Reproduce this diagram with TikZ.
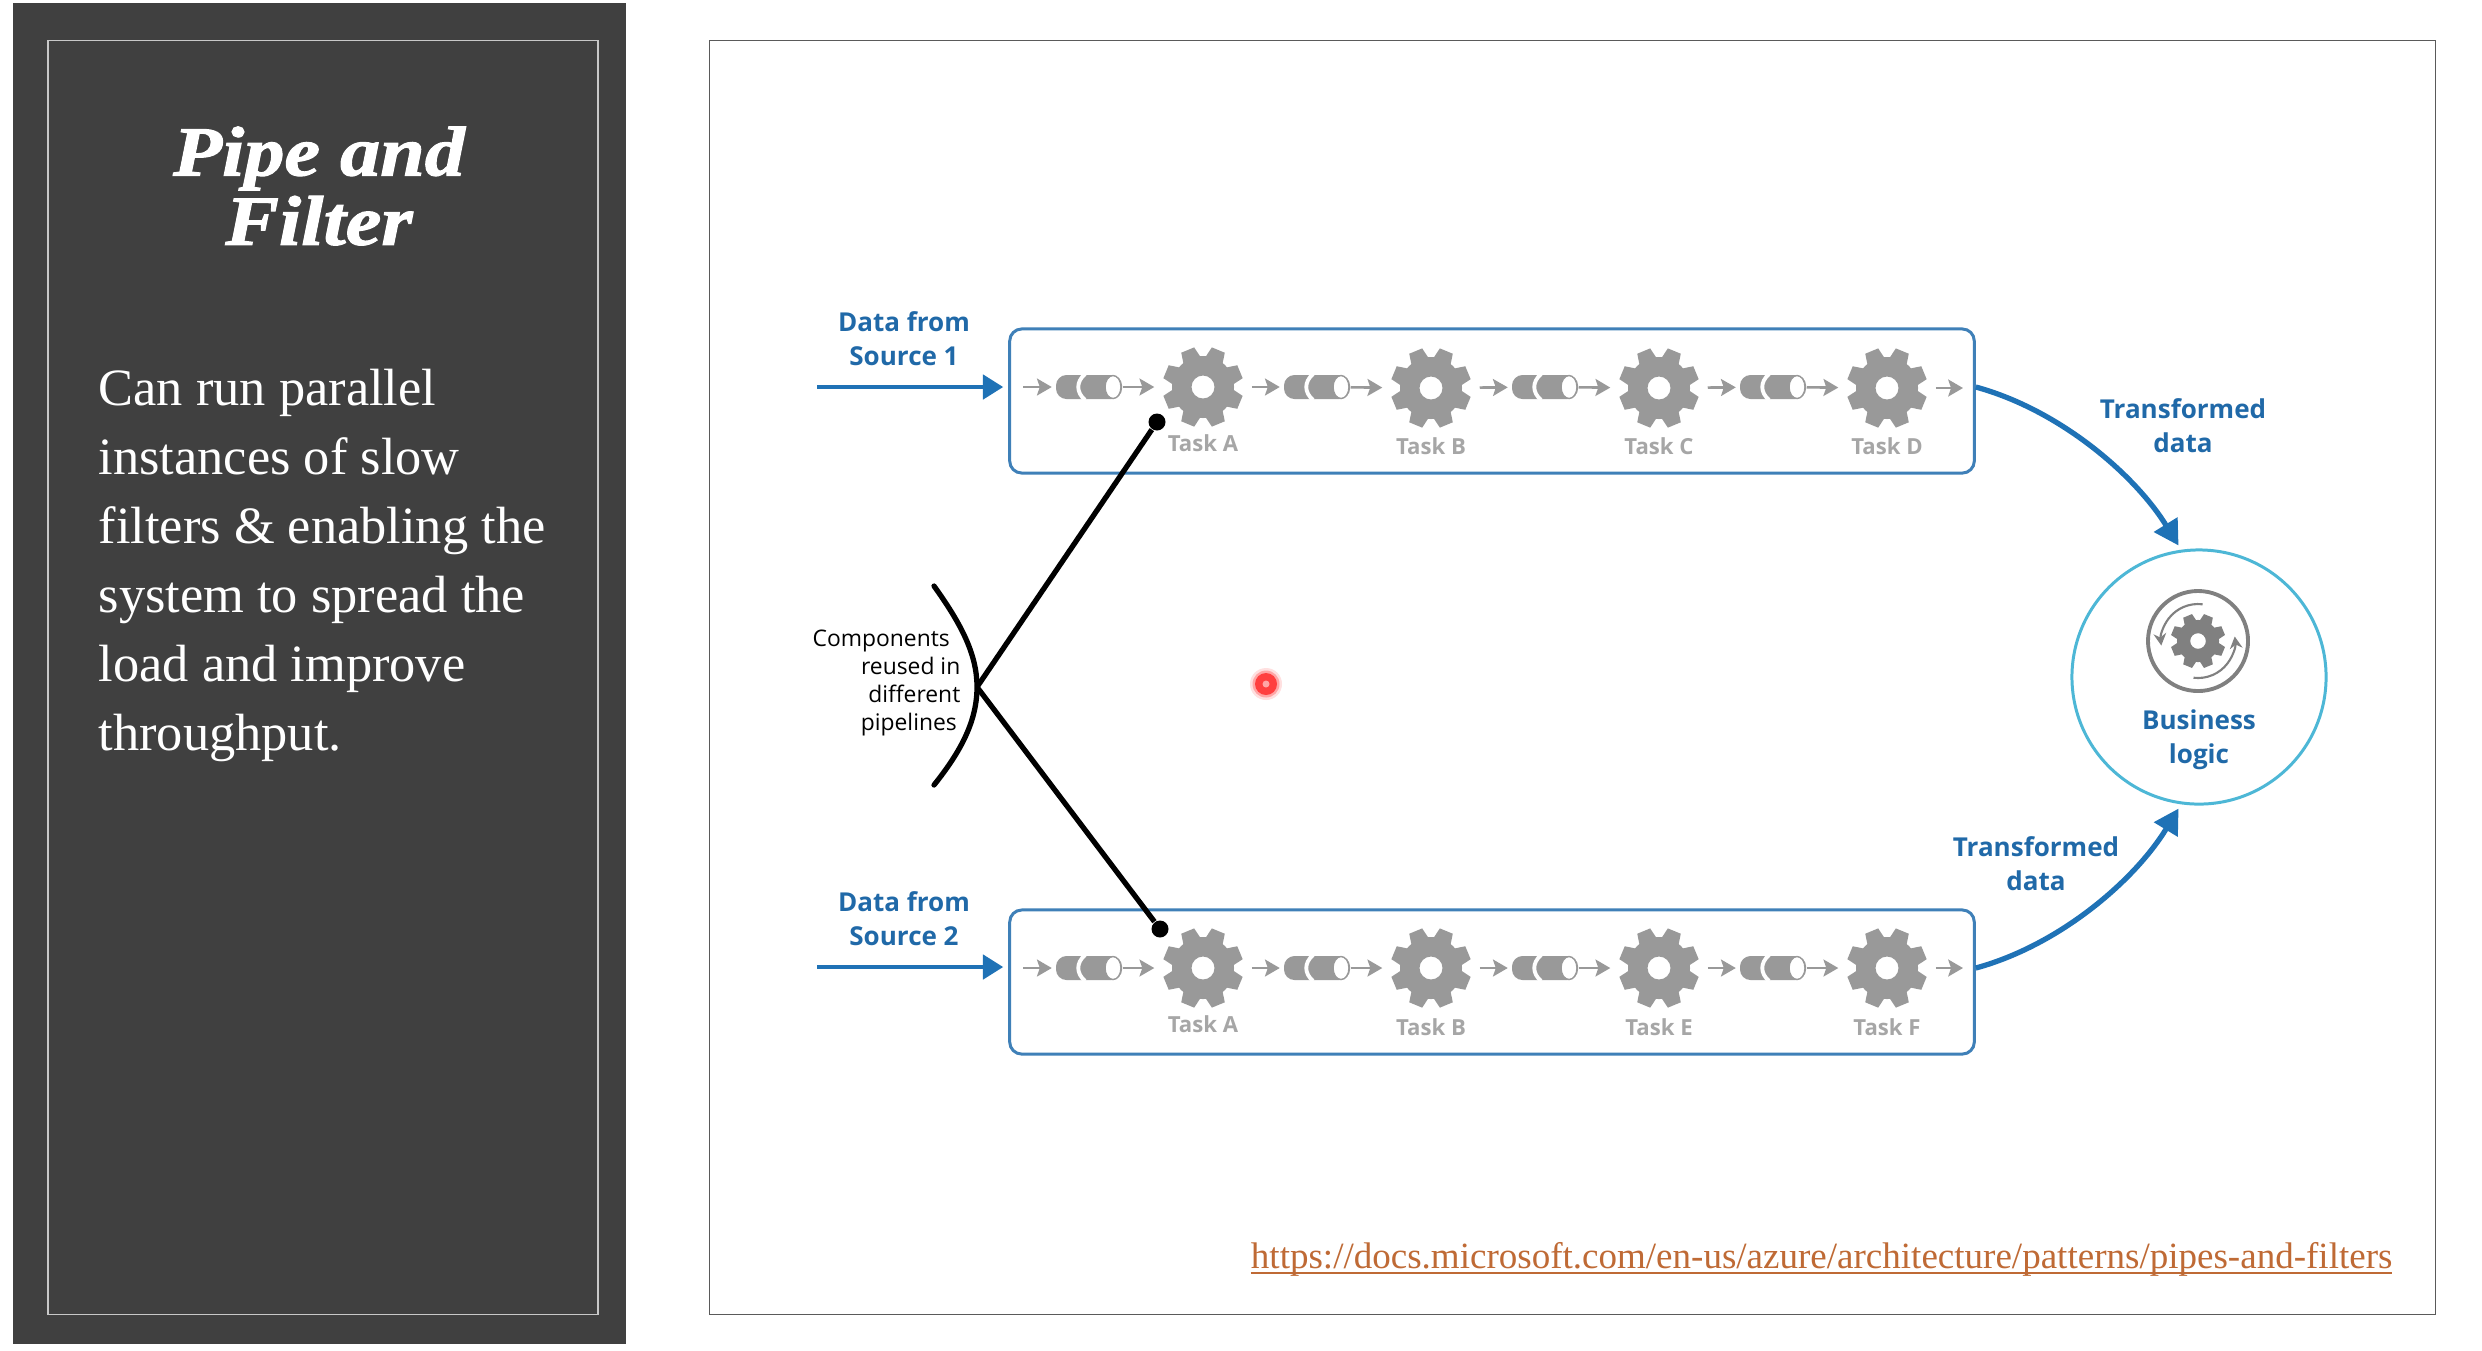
\documentclass[tikz,border=0pt]{standalone}
\usepackage{fontspec}
\setmainfont{Liberation Serif}
\newfontfamily\opens{Open Sans}
\newfontface\titlef[FakeBold=1.6,FakeStretch=1.14]{Liberation Serif Bold Italic}
\lineskiplimit=-100pt
\usetikzlibrary{arrows.meta,calc}
\definecolor{panelbg}{HTML}{404040}
\definecolor{panelln}{HTML}{C8C8C8}
\definecolor{frameln}{HTML}{5A5A5A}
\definecolor{blueln}{HTML}{1F72B6}
\definecolor{boxln}{HTML}{3F80B8}
\definecolor{bluetx}{HTML}{2069A8}
\definecolor{cyanln}{HTML}{4DB7D6}
\definecolor{gearc}{HTML}{999999}
\definecolor{iconc}{HTML}{808080}
\definecolor{labelc}{HTML}{A6A6A6}
\definecolor{urlc}{HTML}{BF6A35}
\tikzset{
  x=0.01cm,y=-0.01cm,
  gearpic/.pic={
    \fill[pic actions,even odd rule] (0,0) circle[radius=31] (0,0) circle[radius=11.5];
    \foreach \a in {22.5,67.5,...,337.5}
      \fill[pic actions,rotate=\a] (27,-9.5) -- (40,-7) -- (40,7) -- (27,9.5) -- cycle;
  },
  pipepic/.pic={
    \fill[gearc,rounded corners=3pt] (-33,-12) rectangle (33,12);
    \draw[white,line width=1.1pt] (-4,-13) .. controls (-13,-5) and (-13,5) .. (-4,13);
    \fill[white,draw=gearc,line width=0.4pt] (24,0) ellipse[x radius=8,y radius=11.5];
  },
  hub/.style={circle,minimum size=0.96cm,inner sep=0pt},
  pipenode/.style={rectangle,minimum width=0.66cm,minimum height=0.24cm,inner sep=0pt},
  flow/.style={draw=gearc,line width=0.75pt,-{Stealth[length=4.2pt,width=4.8pt,inset=0.8pt]}},
  tasklab/.style={font=\opens\bfseries\fontsize{6.3}{7.5}\selectfont,text=labelc,inner sep=0pt},
  bluelab/.style={font=\opens\bfseries\fontsize{7.4}{9.7}\selectfont,text=bluetx,align=center,inner sep=0pt},
  rowbox/.style={draw=boxln,line width=0.85pt,rounded corners=3.4pt,inner sep=0pt,minimum width=9.64cm,minimum height=1.44cm},
  inarrow/.style={draw=blueln,line width=1.4pt,-{Triangle[length=5.8pt,width=6.8pt]},shorten >=1.4pt},
  outarrow/.style={draw=blueln,line width=1.5pt,-{Triangle[length=7pt,width=7.6pt]},shorten >=1.4pt},
  blackln/.style={draw=black,line width=1.5pt},
  blackdot/.style={circle,fill=black,minimum size=0.17cm,inner sep=0pt}
}
\begin{document}
\begin{tikzpicture}
\useasboundingbox (0,0) rectangle (2482,1350);
\fill[white] (0,0) rectangle (2482,1350);
% left panel
\node[fill=panelbg,minimum width=6.13cm,minimum height=13.41cm,inner sep=0pt] (panel) at (319.5,673.5) {};
\node[draw=panelln,line width=0.45pt,minimum width=5.5cm,minimum height=12.73cm,inner sep=0pt] (inner) at (323,677.5) {};
\node[text=white,align=center,inner sep=0pt,font=\titlef\fontsize{20}{19.7}\selectfont] (title) at (319,186) {Pipe and\\Filter};
\node[text=white,align=left,anchor=north west,inner sep=0pt,font=\fontsize{14.9}{19.63}\selectfont] (body) at (98,368) {Can run parallel\\instances of slow\\filters \& enabling the\\system to spread the\\load and improve\\throughput.};
% right frame
\node[draw=frameln,line width=0.45pt,minimum width=17.25cm,minimum height=12.73cm,inner sep=0pt] (frame) at (1572.5,677.5) {};
% row boxes
\node[rowbox] (box1) at (1492,401) {};
\node[rowbox] (box2) at (1492,982) {};
% row 1
\coordinate (in1) at (1023,387);
\node[pipenode] (p1a) at (1089,387) {}; \pic[gearc] at (p1a) {pipepic};
\node[pipenode] (p1b) at (1317,387) {}; \pic[gearc] at (p1b) {pipepic};
\node[pipenode] (p1c) at (1545,387) {}; \pic[gearc] at (p1c) {pipepic};
\node[pipenode] (p1d) at (1773,387) {}; \pic[gearc] at (p1d) {pipepic};
\node[hub] (g1a) at (1203,387) {}; \pic[gearc] at (g1a) {gearpic};
\node[hub] (g1b) at (1431,388) {}; \pic[gearc] at (g1b) {gearpic};
\node[hub] (g1c) at (1659,388) {}; \pic[gearc] at (g1c) {gearpic};
\node[hub] (g1d) at (1887,388) {}; \pic[gearc] at (g1d) {gearpic};
\coordinate (out1) at (1963,388);
\draw[flow,shorten >=1pt] (in1) -- (p1a);
\draw[flow] (p1a) -- (g1a);
\draw[flow,shorten >=1pt] (g1a) -- (p1b);
\draw[flow] (p1b) -- (g1b);
\draw[flow,shorten >=1pt] (g1b) -- (p1c);
\draw[flow] (p1c) -- (g1c);
\draw[flow,shorten >=1pt] (g1c) -- (p1d);
\draw[flow] (p1d) -- (g1d);
\draw[flow] (g1d) -- (out1);
\node[tasklab] (t1a) at (1203,443) {Task A};
\node[tasklab] (t1b) at (1431,446) {Task B};
\node[tasklab] (t1c) at (1659,446) {Task C};
\node[tasklab] (t1d) at (1887,446) {Task D};
% row 2
\coordinate (in2) at (1023,968);
\node[pipenode] (p2a) at (1089,968) {}; \pic[gearc] at (p2a) {pipepic};
\node[pipenode] (p2b) at (1317,968) {}; \pic[gearc] at (p2b) {pipepic};
\node[pipenode] (p2c) at (1545,968) {}; \pic[gearc] at (p2c) {pipepic};
\node[pipenode] (p2d) at (1773,968) {}; \pic[gearc] at (p2d) {pipepic};
\node[hub] (g2a) at (1203,968) {}; \pic[gearc] at (g2a) {gearpic};
\node[hub] (g2b) at (1431,968) {}; \pic[gearc] at (g2b) {gearpic};
\node[hub] (g2c) at (1659,968) {}; \pic[gearc] at (g2c) {gearpic};
\node[hub] (g2d) at (1887,968) {}; \pic[gearc] at (g2d) {gearpic};
\coordinate (out2) at (1963,968);
\draw[flow,shorten >=1pt] (in2) -- (p2a);
\draw[flow] (p2a) -- (g2a);
\draw[flow,shorten >=1pt] (g2a) -- (p2b);
\draw[flow] (p2b) -- (g2b);
\draw[flow,shorten >=1pt] (g2b) -- (p2c);
\draw[flow] (p2c) -- (g2c);
\draw[flow,shorten >=1pt] (g2c) -- (p2d);
\draw[flow] (p2d) -- (g2d);
\draw[flow] (g2d) -- (out2);
\node[tasklab] (t2a) at (1203,1024) {Task A};
\node[tasklab] (t2b) at (1431,1027) {Task B};
\node[tasklab] (t2c) at (1659,1027) {Task E};
\node[tasklab] (t2d) at (1887,1027) {Task F};
% sources
\coordinate (src1) at (817,387);
\coordinate (src2) at (817,967);
\draw[inarrow] (src1) -- (src1 -| box1.west);
\draw[inarrow] (src2) -- (src2 -| box2.west);
\node[bluelab] (dl1) at (904,338.5) {Data from\\Source 1};
\node[bluelab] (dl2) at (904,918.5) {Data from\\Source 2};
% business logic
\node[circle,draw=cyanln,line width=0.85pt,minimum size=2.54cm,inner sep=0pt] (biz) at (2199,677) {};
\node[circle,draw=iconc,line width=1.1pt,minimum size=1.0cm,inner sep=0pt] (icon) at (2198,641) {};
\pic[iconc,scale=0.68] at (icon) {gearpic};
\begin{scope}[shift={(icon.center)},yscale=-1]
  \draw[iconc,line width=0.6pt,-{Stealth[length=3.4pt,width=3.6pt]}] (83:37) arc[start angle=83,end angle=187,radius=37];
  \draw[iconc,line width=0.6pt,-{Stealth[length=3.4pt,width=3.6pt]}] (263:37) arc[start angle=263,end angle=367,radius=37];
\end{scope}
\node[bluelab] (bl) at (2199,739.5) {Business\\logic};
% outputs
\draw[outarrow] (box1.east |- g1a) .. controls (2060,410) and (2135,475) .. (biz.98);
\draw[outarrow] (box2.east |- g2a) .. controls (2060,945) and (2135,880) .. (biz.-98);
\node[bluelab] (tl1) at (2183,426) {Transformed\\data};
\node[bluelab] (tl2) at (2036,864) {Transformed\\data};
% components
\node[align=right,anchor=east,inner sep=0pt,font=\opens\fontsize{6.5}{7.9}\selectfont] (comp) at (961,683) {Components\hspace*{3pt}\\reused in\\different\\pipelines\hspace*{1pt}};
\coordinate (brt) at (934,586);
\coordinate (brb) at (934,785);
\coordinate (jn) at (977,687);
\node[blackdot] (dot1) at (1157,422) {};
\node[blackdot] (dot2) at (1160,929) {};
\draw[blackln,line cap=round] (brt) .. controls (962,625) and (977,655) .. (jn) .. controls (977,720) and (962,750) .. (brb);
\draw[blackln] (jn) -- (dot1);
\draw[blackln] (jn) -- (dot2);
% pointer
\fill[red!12] (1266,684) circle[radius=16];
\fill[red!35] (1266,684) circle[radius=13.5];
\fill[red!75] (1266,684) circle[radius=11];
\node[circle,fill=red!35,minimum size=0.07cm,inner sep=0pt] (ptr) at (1266,684) {};
% url
\node[text=urlc,anchor=base east,inner sep=0pt,font=\fontsize{10.53}{12}\selectfont] (url) at (2393,1268) {\underline{\smash{https://docs.microsoft.com/en-us/azure/architecture/patterns/pipes-and-filters}}};
\end{tikzpicture}
\end{document}
